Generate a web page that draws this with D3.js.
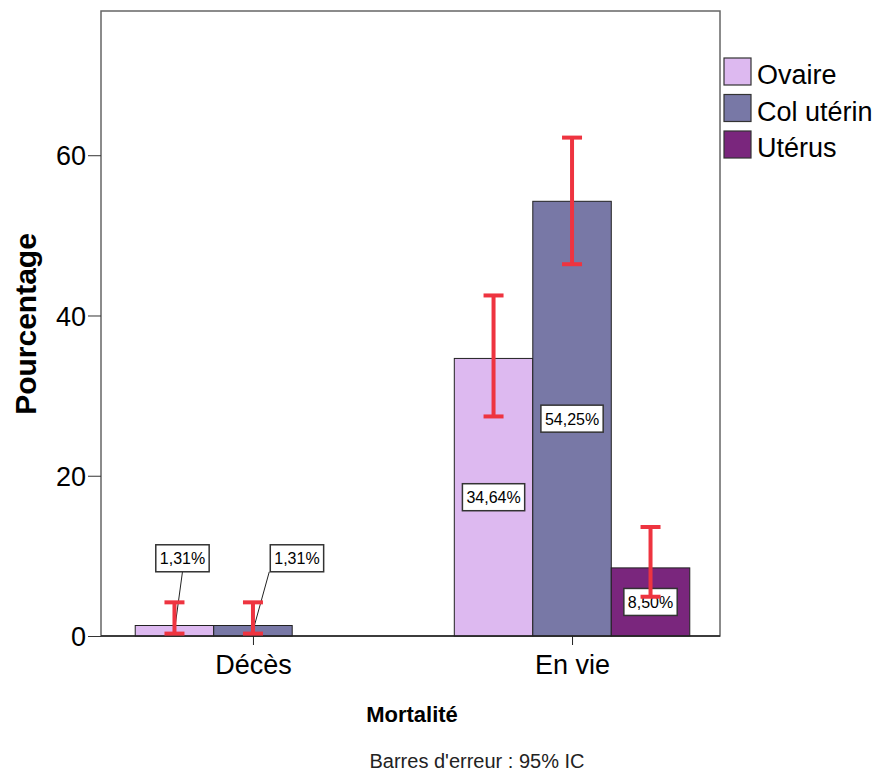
<html>
<head>
	<meta charset='utf-8' />
	<title>Mortalité</title>
	<script src="https://d3js.org/d3.v7.min.js"></script>
	<style>
	body { margin: 0; background: #fff; }
	text { font-family: Arial, "Liberation Sans", sans-serif; }
	</style>
</head>
<body>
<script>

	// data
	var categories = ["Décès", "En vie"];
	var series = ["Ovaire", "Col utérin", "Utérus"];
	var colors = ["#ddb9f0", "#7878a6", "#7a267d"];
	// percentage per category (rows) and series (cols)
	var values = [[1.31, 1.31, 0], [34.64, 54.25, 8.50]];
	var ciLow = [[0.3, 0.3, null], [27.4, 46.4, 4.9]];
	var ciHigh = [[4.2, 4.2, null], [42.5, 62.2, 13.6]];
	var labels = [["1,31%", "1,31%", null], ["34,64%", "54,25%", "8,50%"]];
	var yTicks = [0, 20, 40, 60];

	var width = 883, height = 771;
	var plot = {left: 101, right: 720, top: 11, bottom: 636};

	var svg = d3.select("body").append("svg")
		.attr("width", width)
		.attr("height", height);

	var xScale = d3.scaleBand().domain(categories)
		.range([plot.left + 2, plot.right + 2])
		.paddingInner(0.262).paddingOuter(0.101);
	var xInner = d3.scaleBand().domain(series).range([0, xScale.bandwidth()]);
	var yScale = d3.scaleLinear().domain([0, 78]).range([plot.bottom, plot.top]);

	// frame
	svg.append("rect")
		.attr("x", plot.left).attr("y", plot.top)
		.attr("width", plot.right - plot.left).attr("height", plot.bottom - plot.top)
		.attr("fill", "none").attr("stroke", "#666").attr("stroke-width", 1.5);

	// flatten to one record per bar
	var bars = [];
	categories.forEach(function(c, i) {
		series.forEach(function(s, j) {
			if (values[i][j] > 0) {
				bars.push({cat: c, ser: s, j: j, v: values[i][j], lo: ciLow[i][j], hi: ciHigh[i][j], lab: labels[i][j]});
			}
		});
	});
	var bx = function(d) { return xScale(d.cat) + xInner(d.ser); };
	var bcx = function(d) { return bx(d) + xInner.bandwidth() / 2; };

	svg.append("g").selectAll("rect").data(bars).enter().append("rect")
		.attr("x", bx)
		.attr("y", d => yScale(d.v))
		.attr("width", xInner.bandwidth())
		.attr("height", d => yScale(0) - yScale(d.v))
		.attr("fill", d => colors[d.j])
		.attr("stroke", "#222").attr("stroke-width", 1);

	// axes
	var yAxis = svg.append("g")
		.attr("transform", "translate(" + plot.left + ",0)")
		.call(d3.axisLeft(yScale).tickValues(yTicks).tickSize(13).tickPadding(2));
	yAxis.select(".domain").remove();
	yAxis.selectAll("line").attr("stroke", "#333");
	yAxis.selectAll("text").attr("font-size", 27).attr("fill", "#000").attr("dy", "0.36em");

	var xAxis = svg.append("g")
		.attr("transform", "translate(0," + plot.bottom + ")")
		.call(d3.axisBottom(d3.scalePoint().domain(categories)
			.range([xScale(categories[0]) + xScale.bandwidth() / 2, xScale(categories[1]) + xScale.bandwidth() / 2]))
			.tickSize(9).tickPadding(10));
	xAxis.select(".domain").remove();
	xAxis.selectAll("line").attr("stroke", "#222");
	xAxis.selectAll("text").attr("font-size", 27).attr("fill", "#000");

	svg.append("line")
		.attr("x1", plot.left).attr("x2", plot.right)
		.attr("y1", plot.bottom).attr("y2", plot.bottom)
		.attr("stroke", "#222").attr("stroke-width", 1.5);

	// value labels, small bars get a box above with a leader line
	var nudge = [8, 44];
	var k = 0;
	bars.forEach(function(d) {
		if (!d.lab) return;
		var g = svg.append("g");
		var t = g.append("text").attr("font-size", 16).attr("text-anchor", "middle").text(d.lab);
		var tw = t.node().getComputedTextLength();
		var bw = tw + 8, bh = 27;
		var cx, cy;
		if (d.v < 5) {
			cx = bcx(d) + nudge[k++];
			cy = yScale(9.7);
		} else {
			cx = bcx(d);
			cy = yScale(d.v / 2);
		}
		if (d.v < 5) {
			var lx = (bcx(d) > cx - bw / 2 && bcx(d) < cx + bw / 2) ? cx : cx - bw / 2 - 1;
			g.insert("line", "text")
				.attr("x1", lx).attr("y1", cy + bh / 2)
				.attr("x2", bcx(d)).attr("y2", yScale(d.v / 2))
				.attr("stroke", "#222").attr("stroke-width", 1);
		}
		g.insert("rect", "text")
			.attr("x", cx - bw / 2).attr("y", cy - bh / 2)
			.attr("width", bw).attr("height", bh)
			.attr("fill", "#fff").attr("stroke", "#333").attr("stroke-width", 1.5);
		t.attr("x", cx).attr("y", cy + 6);
	});

	// error bars (drawn over the labels, as in the original)
	var eb = svg.append("g").selectAll("g").data(bars.filter(d => d.lo != null)).enter().append("g")
		.attr("stroke", "#ee3440").attr("stroke-width", 4);
	eb.append("line")
		.attr("x1", bcx).attr("x2", bcx)
		.attr("y1", d => yScale(d.lo)).attr("y2", d => yScale(d.hi));
	eb.append("line")
		.attr("x1", d => bcx(d) - 10).attr("x2", d => bcx(d) + 10)
		.attr("y1", d => yScale(d.hi)).attr("y2", d => yScale(d.hi));
	eb.append("line")
		.attr("x1", d => bcx(d) - 10).attr("x2", d => bcx(d) + 10)
		.attr("y1", d => yScale(d.lo)).attr("y2", d => yScale(d.lo));

	// legend
	var leg = svg.append("g").selectAll("g").data(series).enter().append("g")
		.attr("transform", (d, i) => "translate(724," + (58 + i * 36.5) + ")");
	leg.append("rect")
		.attr("width", 27).attr("height", 27)
		.attr("fill", (d, i) => colors[i])
		.attr("stroke", "#333").attr("stroke-width", 1.2);
	leg.append("text")
		.attr("x", 33).attr("y", 26)
		.attr("font-size", 27)
		.text(d => d);

	// titles
	svg.append("text")
		.attr("transform", "translate(36,324) rotate(-90)")
		.attr("text-anchor", "middle")
		.attr("font-size", 30).attr("font-weight", "bold")
		.text("Pourcentage");

	svg.append("text")
		.attr("x", 412).attr("y", 722)
		.attr("text-anchor", "middle")
		.attr("font-size", 22).attr("font-weight", "bold")
		.text("Mortalité");

	svg.append("text")
		.attr("x", 477).attr("y", 768)
		.attr("text-anchor", "middle")
		.attr("font-size", 20).attr("fill", "#222")
		.text("Barres d'erreur : 95% IC");

</script>
</body>
</html>
